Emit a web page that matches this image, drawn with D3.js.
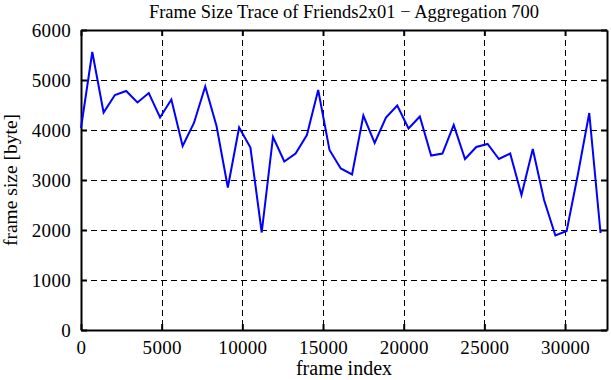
<!DOCTYPE html>
<html>
<head>
<meta charset="utf-8">
<script src="https://cdn.jsdelivr.net/npm/d3@7"></script>
<style>
  body { margin: 0; background: #fff; }
  svg { display: block; font-family: "Liberation Serif", "DejaVu Serif", serif; }
</style>
</head>
<body>
<div id="chart"></div>
<script>
//data
const aggregation = 700;
const frameSizes = [
  4040, 5560, 4350, 4700, 4780, 4550, 4740, 4250, 4610, 3680,
  4140, 4870, 4080, 2850, 4050, 3650, 1950, 3860, 3370, 3530,
  3900, 4800, 3600, 3230, 3110, 4290, 3740, 4250, 4490, 4030,
  4270, 3490, 3530, 4100, 3420, 3660, 3720, 3420, 3530, 2700,
  3620, 2600, 1890, 1980, 3120, 4340, 1940
];
const xTicks = [0, 5000, 10000, 15000, 20000, 25000, 30000];
const yTicks = [0, 1000, 2000, 3000, 4000, 5000, 6000];
const xMax = 32600;

const points = frameSizes.map((v, i) => ({ x: i * aggregation, y: v }));

//size
const width = 611, height = 380;
const margin = { top: 30, right: 4, bottom: 50, left: 81 };
const innerWidth = width - margin.left - margin.right;
const innerHeight = height - margin.top - margin.bottom;

//scale
const xScale = d3.scaleLinear().domain([0, xMax]).range([0, innerWidth]);
const yScale = d3.scaleLinear().domain([0, 6000]).range([innerHeight, 0]);
const fmt = d3.format("d");

//create element
const svg = d3.select("#chart").append("svg")
  .attr("width", width)
  .attr("height", height);

const g = svg.append("g").attr("transform", `translate(${margin.left},${margin.top})`);

//grid
g.append("g").attr("transform", "translate(0,0.5)")
  .selectAll("line")
  .data(yTicks.slice(1, -1))
  .join("line")
  .attr("x1", 0).attr("x2", innerWidth)
  .attr("y1", d => yScale(d)).attr("y2", d => yScale(d))
  .attr("stroke", "#000").attr("stroke-width", 1)
  .attr("stroke-dasharray", "6,4");

g.append("g").attr("transform", "translate(0.5,0)")
  .selectAll("line")
  .data(xTicks.slice(1))
  .join("line")
  .attr("x1", d => Math.round(xScale(d))).attr("x2", d => Math.round(xScale(d)))
  .attr("y1", 0).attr("y2", innerHeight)
  .attr("stroke", "#000").attr("stroke-width", 1)
  .attr("stroke-dasharray", "6,4");

//axes
const tickLen = 6;
const axes = [
  g.append("g").attr("class", "axis x-axis")
    .attr("transform", `translate(0,${innerHeight})`)
    .call(d3.axisBottom(xScale).tickValues(xTicks).tickFormat(fmt).tickSizeInner(-tickLen).tickSizeOuter(0).tickPadding(11)),
  g.append("g").attr("class", "axis")
    .call(d3.axisTop(xScale).tickValues(xTicks).tickSizeInner(-tickLen).tickSizeOuter(0).tickFormat("")),
  g.append("g").attr("class", "axis y-axis")
    .call(d3.axisLeft(yScale).tickValues(yTicks).tickFormat(fmt).tickSizeInner(-tickLen).tickSizeOuter(0).tickPadding(10)),
  g.append("g").attr("class", "axis")
    .attr("transform", `translate(${innerWidth},0)`)
    .call(d3.axisRight(yScale).tickValues(yTicks).tickSizeInner(-tickLen).tickSizeOuter(0).tickFormat(""))
];
axes.forEach(a => a.attr("font-family", "Liberation Serif, serif").attr("font-size", 19));

g.selectAll(".axis path").attr("stroke", "#000").attr("stroke-width", 2);
g.selectAll(".axis line").attr("stroke", "#000").attr("stroke-width", 2);
g.selectAll(".axis text").attr("fill", "#000").attr("letter-spacing", 0.3);

//line
g.append("path")
  .datum(points)
  .attr("fill", "none")
  .attr("stroke", "#0000ff")
  .attr("stroke-width", 2)
  .attr("stroke-linejoin", "miter")
  .attr("d", d3.line().x(d => xScale(d.x)).y(d => yScale(d.y)));

//labels
svg.append("text")
  .attr("x", margin.left + innerWidth / 2)
  .attr("y", 18)
  .attr("text-anchor", "middle")
  .attr("font-size", 18.5)
  .text("Frame Size Trace of Friends2x01 \u2212 Aggregation 700");

svg.append("text")
  .attr("x", margin.left + innerWidth / 2)
  .attr("y", 375)
  .attr("text-anchor", "middle")
  .attr("font-size", 20)
  .text("frame index");

svg.append("text")
  .attr("transform", `translate(17,${margin.top + innerHeight / 2}) rotate(-90)`)
  .attr("text-anchor", "middle")
  .attr("font-size", 19.5)
  .text("frame size [byte]");
</script>
</body>
</html>
